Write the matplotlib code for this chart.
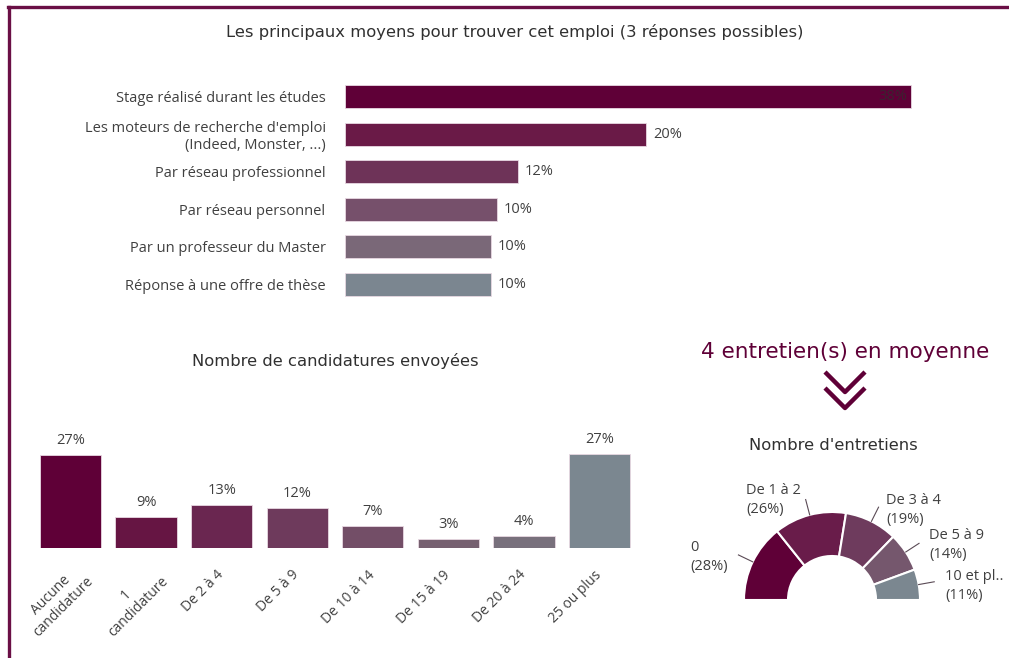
import matplotlib
matplotlib.use("Agg")
import matplotlib.pyplot as plt
from matplotlib.lines import Line2D
import numpy as np

plt.rcParams['font.family'] = ['Open Sans', 'DejaVu Sans']

# ---------- data ----------
moyens_labels = [
    "Stage réalisé durant les études",
    "Les moteurs de recherche d'emploi\n(Indeed, Monster, ...)",
    "Par réseau professionnel",
    "Par réseau personnel",
    "Par un professeur du Master",
    "Réponse à une offre de thèse",
]
moyens_values = [38, 20.2, 11.6, 10.2, 9.8, 9.8]
moyens_text = ["38%", "20%", "12%", "10%", "10%", "10%"]
moyens_colors = ["#5f0037", "#6a1a47", "#6e3358", "#76506b", "#7a6878", "#7b8690"]

cand_labels = [
    "Aucune\ncandidature", "1\ncandidature", "De 2 à 4", "De 5 à 9",
    "De 10 à 14", "De 15 à 19", "De 20 à 24", "25 ou plus",
]
cand_values = [27, 9, 12.5, 11.5, 6.5, 2.5, 3.5, 27.3]
cand_text = ["27%", "9%", "13%", "12%", "7%", "3%", "4%", "27%"]
cand_colors = ["#5f0037", "#661543", "#6a2650", "#6e3a5c", "#734e67",
               "#766070", "#78707c", "#7b8790"]

entr_labels = ["0", "De 1 à 2", "De 3 à 4", "De 5 à 9", "10 et pl.."]
entr_values = [28, 26, 19, 14, 11]
entr_colors = ["#5f0037", "#691c4a", "#6e3b5d", "#75576d", "#7b8790"]

MAROON = "#5f0037"
TXT = "#404040"
TITLE_FONT = ["DejaVu Sans"]
W, H = 1009, 658


def box(x0, y0, x1, y1):
    """pixel box (top-left origin) -> figure rect"""
    return [x0 / W, 1 - y1 / H, (x1 - x0) / W, (y1 - y0) / H]


def fp(x, y):
    return x / W, 1 - y / H


fig = plt.figure(figsize=(W / 100, H / 100), dpi=100)

# ---------- frame ----------
fig.add_artist(Line2D([8 / W, 1], [1 - 7 / H] * 2, color="#6a0f45", lw=2.4))
fig.add_artist(Line2D([9 / W] * 2, [1 - 7 / H, 0], color="#6a0f45", lw=2.4))

# ---------- top horizontal bars ----------
ax1 = fig.add_axes(box(345, 78, 941, 303))
ypos = list(range(len(moyens_values)))
ax1.barh(ypos, moyens_values, height=0.62, color=moyens_colors,
         edgecolor="#e8d8e2", linewidth=0.6)
ax1.set_xlim(0, 40)
ax1.set_ylim(5.5, -0.5)
ax1.set_yticks(ypos)
ax1.set_yticklabels(moyens_labels, fontsize=10.5, color=TXT, ha="right",
                    multialignment="right")
ax1.tick_params(axis="y", length=0, pad=14)
ax1.set_xticks([])
for s in ax1.spines.values():
    s.set_visible(False)
for i, (v, t) in enumerate(zip(moyens_values, moyens_text)):
    if i == 0:
        ax1.annotate(t, (v, i), xytext=(-3, 0), textcoords="offset points",
                     ha="right", va="center", fontsize=10.5, color="#3a2430")
    else:
        ax1.annotate(t, (v, i), xytext=(5, 0), textcoords="offset points",
                     ha="left", va="center", fontsize=10.5, color=TXT)
fig.text(*fp(515, 32), "Les principaux moyens pour trouver cet emploi (3 réponses possibles)",
         ha="center", va="center", fontsize=11.8, color="#303030", family=TITLE_FONT)

# ---------- candidatures ----------
ax2 = fig.add_axes(box(32.7, 444.5, 637.3, 548))
xpos = list(range(len(cand_values)))
ax2.bar(xpos, cand_values, width=0.81, color=cand_colors,
        edgecolor="#e8d8e2", linewidth=0.6)
ax2.set_xlim(-0.5, 7.5)
ax2.set_ylim(0, 30)
ax2.axis("off")
for i, (v, t) in enumerate(zip(cand_values, cand_text)):
    ax2.annotate(t, (i, v), xytext=(0, 5), textcoords="offset points",
                 ha="center", va="bottom", fontsize=10.5, color=TXT)
    # two-line labels sit a little further along the text direction
    off = (2, -10) if "\n" in cand_labels[i] else (-4, -14)
    ax2.annotate(cand_labels[i], (i, 0), xytext=off, textcoords="offset points",
                 ha="right", va="top", rotation=45, rotation_mode="anchor",
                 multialignment="center", fontsize=10, color=TXT)
fig.text(*fp(335, 361), "Nombre de candidatures envoyées", ha="center", va="center",
         fontsize=11.8, color="#303030", family=TITLE_FONT)

# ---------- entretiens ----------
fig.text(*fp(845, 352), "4 entretien(s) en moyenne", ha="center", va="center",
         fontsize=15.5, color=MAROON, family=TITLE_FONT)
for y0 in (372, 388):
    xs = [825, 845, 865]
    ys = [y0, y0 + 20, y0]
    fig.add_artist(Line2D([x / W for x in xs], [1 - y / H for y in ys],
                          color=MAROON, lw=3.2, solid_capstyle="butt"))
fig.text(*fp(833, 446), "Nombre d'entretiens", ha="center", va="center",
         fontsize=11.8, color="#303030", family=TITLE_FONT)

R = 88
ax3 = fig.add_axes(box(832 - 120, 600 - 120, 832 + 120, 600 + 120))
total = sum(entr_values)
wedges, _ = ax3.pie(entr_values + [total], radius=1, startangle=180, counterclock=False,
                    colors=entr_colors + ["none"],
                    wedgeprops=dict(width=0.5, edgecolor="white", linewidth=1.5))
wedges[-1].set_edgecolor("none")
ax3.set_xlim(-120 / R, 120 / R)
ax3.set_ylim(-120 / R, 120 / R)
ax3.set_aspect("equal")
ax3.axis("off")

text_pos = [(690, 557), (746, 500), (886, 510), (929, 545), (945, 586)]
for w, lab, v, (tx, ty) in zip(wedges[:-1], entr_labels, entr_values, text_pos):
    ang = np.deg2rad((w.theta1 + w.theta2) / 2)
    x0, y0 = np.cos(ang), np.sin(ang)
    x1, y1 = 1.18 * x0, 1.18 * y0
    ax3.plot([x0, x1], [y0, y1], color="#5a4a55", lw=0.8)
    fig.text(*fp(tx, ty), f"{lab}\n({v}%)", ha="left", va="center",
             fontsize=10.5, color=TXT, linespacing=1.3)

fig.savefig("out.png", dpi=100)
